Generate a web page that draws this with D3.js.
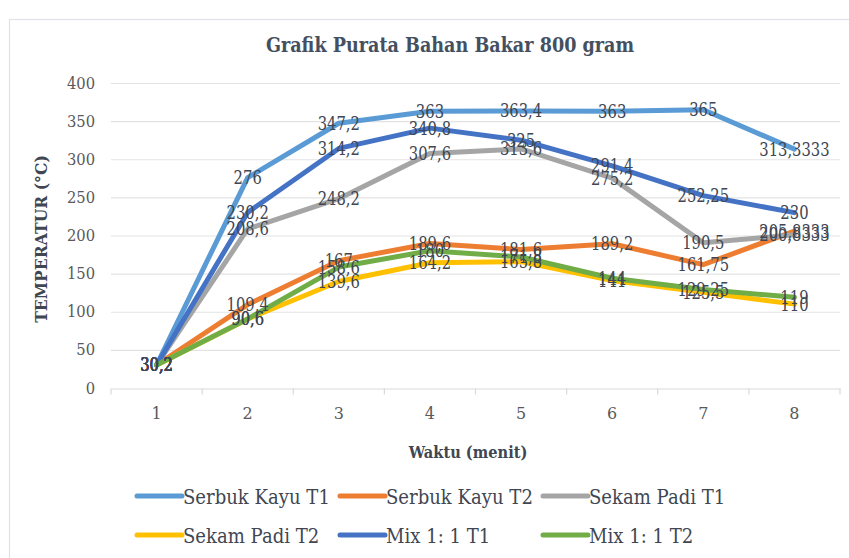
<!DOCTYPE html>
<html>
<head>
<meta charset="utf-8">
<script src="https://cdn.jsdelivr.net/npm/d3@7"></script>
<style>
  body { margin: 0; background: #fff; }
</style>
</head>
<body>
<div id="chart"></div>
<script>
// data
var categories = [1, 2, 3, 4, 5, 6, 7, 8];
var seriesNames = ["Serbuk Kayu T1", "Serbuk Kayu T2", "Sekam Padi T1", "Sekam Padi T2", "Mix 1: 1 T1", "Mix 1: 1 T2"];
var serbukKayuT1 = [30.2, 276, 347.2, 363, 363.4, 363, 365, 313.3333];
var serbukKayuT2 = [30.2, 109.4, 167, 189.6, 181.6, 189.2, 161.75, 205.8333];
var sekamPadiT1 = [30.2, 208.6, 248.2, 307.6, 313.6, 275.2, 190.5, 200.8333];
var sekamPadiT2 = [30.2, 90.6, 139.6, 164.2, 165.8, 141, 125.5, 110];
var mixT1 = [30.2, 230.2, 314.2, 340.8, 325, 291.4, 252.25, 230];
var mixT2 = [30.2, 90.6, 158.6, 180, 171.8, 144, 129.25, 119];
var yTicks = [0, 50, 100, 150, 200, 250, 300, 350, 400];
var colors = ["#5B9BD5", "#ED7D31", "#A5A5A5", "#FFC000", "#4472C4", "#70AD47"];

var allSeries = [serbukKayuT1, serbukKayuT2, sekamPadiT1, sekamPadiT2, mixT1, mixT2];
var series = seriesNames.map(function(name, i) {
	return { name: name, color: colors[i], values: allSeries[i] };
});

// DejaVu Serif is wider than Times, so texts get squeezed horizontally
var FONT = "'DejaVu Serif', serif";
var W = 849, H = 558;
var plotLeft = 111, plotRight = 840, plotTop = 83, plotBottom = 388;

function squeeze(sel, px, py, sx) {
	sel.attr("x", 0).attr("y", 0)
		.attr("transform", function(d, i) {
			var a = typeof px === "function" ? px(d, i) : px;
			var b = typeof py === "function" ? py(d, i) : py;
			return "translate(" + a + "," + b + ") scale(" + sx + ",1)";
		});
}

var svg = d3.select("#chart").append("svg")
	.attr("width", W).attr("height", H)
	.style("font-family", FONT);

// chart border
svg.append("rect")
	.attr("x", 9.5).attr("y", 19.5)
	.attr("width", 860).attr("height", 600)
	.attr("fill", "none").attr("stroke", "#dfe2e8").attr("stroke-width", 1.2);

var x = d3.scaleBand().domain(categories).range([plotLeft, plotRight]);
var y = d3.scaleLinear().domain([0, 400]).range([plotBottom, plotTop]);

// gridlines
svg.append("g").selectAll("line")
	.data(yTicks.slice(1))
	.enter().append("line")
	.attr("x1", plotLeft).attr("x2", plotRight)
	.attr("y1", function(d) { return y(d) + 0.5; })
	.attr("y2", function(d) { return y(d) + 0.5; })
	.attr("stroke", "#e3e3e3").attr("stroke-width", 1.2);

// y axis labels
var yAxis = svg.append("g")
	.attr("transform", "translate(" + (plotLeft - 16) + ",0)")
	.call(d3.axisLeft(y).tickValues(yTicks).tickSize(0).tickPadding(0));
yAxis.select(".domain").remove();
yAxis.selectAll("text")
	.style("font-family", FONT)
	.style("font-size", "16px")
	.attr("fill", "#595959")
	.attr("transform", "scale(0.92,1)");

// x axis with ticks at band boundaries
var xAxis = svg.append("g")
	.attr("transform", "translate(0," + (plotBottom + 0.5) + ")")
	.call(d3.axisBottom(x).tickSize(0).tickPadding(19));
xAxis.select(".domain").attr("stroke", "#d9d9d9").attr("stroke-width", 1.2);
xAxis.selectAll("text")
	.style("font-family", FONT)
	.style("font-size", "16px")
	.attr("fill", "#595959");
xAxis.selectAll(".sep")
	.data(d3.range(categories.length + 1))
	.enter().append("line")
	.attr("class", "sep")
	.attr("x1", function(i) { return plotLeft + i * x.step(); })
	.attr("x2", function(i) { return plotLeft + i * x.step(); })
	.attr("y1", 0).attr("y2", 6)
	.attr("stroke", "#d9d9d9").attr("stroke-width", 1.2);

var cx = function(i) { return x(categories[i]) + x.bandwidth() / 2; };

var line = d3.line()
	.x(function(d, i) { return cx(i); })
	.y(function(d) { return y(d); });

svg.append("g").selectAll("path")
	.data(series)
	.enter().append("path")
	.attr("d", function(s) { return line(s.values); })
	.attr("fill", "none")
	.attr("stroke", function(s) { return s.color; })
	.attr("stroke-width", 5)
	.attr("stroke-linejoin", "round")
	.attr("stroke-linecap", "round");

// data labels, centred on the points
var fmt = function(v) { return String(v).replace(".", ","); };
series.forEach(function(s) {
	svg.append("g").selectAll("text")
		.data(s.values)
		.enter().append("text")
		.call(squeeze, function(d, i) { return cx(i); }, function(d) { return y(d); }, 0.82)
		.attr("dy", "0.36em")
		.attr("text-anchor", "middle")
		.style("font-size", "18px")
		.attr("fill", "#404652")
		.text(fmt);
});

// title and axis titles
svg.append("text")
	.call(squeeze, 450, 52, 0.88)
	.attr("text-anchor", "middle")
	.style("font-size", "20px").style("font-weight", "bold")
	.attr("fill", "#44505f")
	.text("Grafik Purata Bahan Bakar 800 gram");

svg.append("text")
	.call(squeeze, 468, 458, 0.86)
	.attr("text-anchor", "middle")
	.style("font-size", "17px").style("font-weight", "bold")
	.attr("fill", "#404652")
	.text("Waktu (menit)");

svg.append("text")
	.attr("transform", "translate(47,239) rotate(-90) scale(0.92,1)")
	.attr("text-anchor", "middle")
	.style("font-size", "17px").style("font-weight", "bold")
	.attr("fill", "#404652")
	.text("TEMPERATUR (°C)");

// legend, two rows of three
var legendX = [137, 340, 543];
var legendY = [496, 535];
var legend = svg.append("g").selectAll("g")
	.data(series)
	.enter().append("g")
	.attr("transform", function(s, i) {
		return "translate(" + legendX[i % 3] + "," + legendY[Math.floor(i / 3)] + ")";
	});
legend.append("line")
	.attr("x1", 0).attr("x2", 45)
	.attr("stroke", function(s) { return s.color; })
	.attr("stroke-width", 5)
	.attr("stroke-linecap", "round");
legend.append("text")
	.call(squeeze, 46, 0, 0.86)
	.attr("dy", "0.36em")
	.style("font-size", "21px")
	.attr("fill", "#404652")
	.text(function(s) { return s.name; });
</script>
</body>
</html>
